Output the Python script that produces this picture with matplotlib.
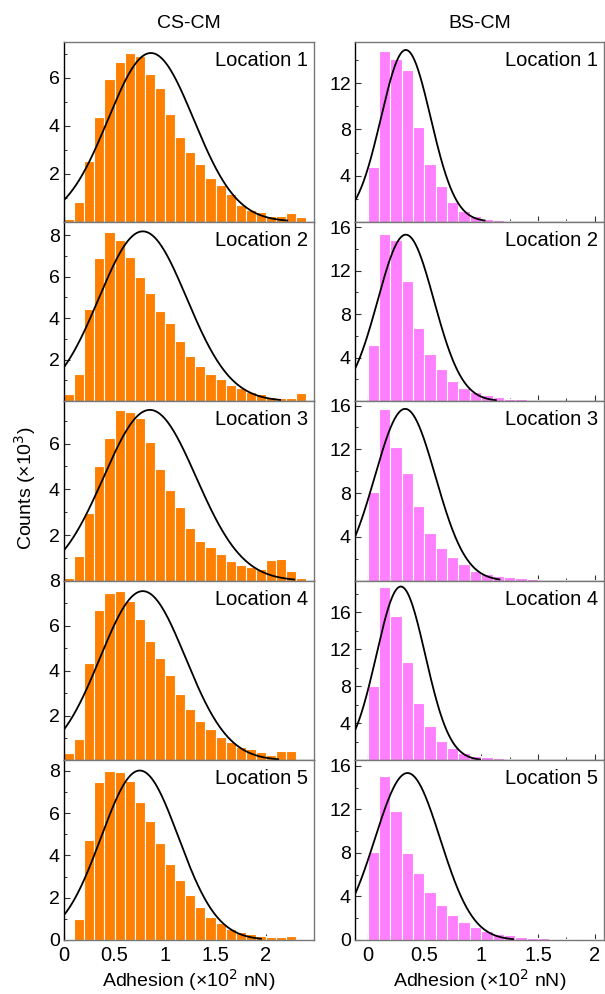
"""Adhesion histograms with Gaussian fits, CS-CM vs BS-CM at five locations."""

import matplotlib.pyplot as plt
import numpy as np

plt.rcParams["font.family"] = ["Liberation Sans", "DejaVu Sans"]

# bin layout
cs_edges = np.arange(0, 2.4, 0.1)   # 24 bins, 0 .. 2.4
bs_edges = np.arange(0, 2.0, 0.1)   # 20 bins, 0 .. 2.0
bin_w = 0.1

# counts (x10^3) per bin, CS-CM
cs_counts = [
    [0.11, 0.83, 2.53, 4.36, 5.94, 6.65, 7.03, 6.92, 6.15, 5.57, 4.49, 3.53,
     2.90, 2.40, 1.82, 1.53, 1.17, 0.69, 0.49, 0.40, 0.24, 0.24, 0.36, 0.19],
    [0.35, 1.29, 4.46, 6.90, 8.15, 7.76, 6.96, 5.99, 5.19, 4.33, 3.79, 2.88,
     2.16, 1.69, 1.29, 1.05, 0.78, 0.62, 0.43, 0.35, 0.19, 0.14, 0.14, 0.38],
    [0.12, 1.08, 2.96, 5.02, 6.25, 7.47, 7.37, 7.11, 6.06, 4.88, 3.96, 3.21,
     2.29, 1.74, 1.46, 1.15, 0.86, 0.67, 0.60, 0.51, 0.91, 0.95, 0.41, 0.12],
    [0.32, 0.97, 4.34, 6.71, 7.47, 7.54, 7.12, 6.31, 5.34, 4.54, 3.79, 2.96,
     2.29, 1.76, 1.41, 1.06, 0.84, 0.60, 0.49, 0.37, 0.26, 0.44, 0.40, 0.00],
    [0.06, 0.99, 4.72, 7.46, 7.98, 7.95, 7.53, 6.52, 5.61, 4.58, 3.59, 2.83,
     2.13, 1.56, 1.09, 0.79, 0.54, 0.38, 0.28, 0.19, 0.14, 0.14, 0.19, 0.06],
]

# counts (x10^3) per bin, BS-CM
bs_counts = [
    [4.71, 14.83, 14.10, 13.17, 8.20, 4.97, 3.05, 1.74, 0.96, 0.49, 0.26, 0.17,
     0.09, 0.05, 0.04, 0.03, 0.03, 0.02, 0.02, 0.00],
    [5.18, 15.34, 14.79, 11.04, 6.74, 4.36, 2.99, 1.89, 1.25, 0.88, 0.61, 0.43,
     0.24, 0.24, 0.08, 0.06, 0.04, 0.03, 0.02, 0.00],
    [8.09, 15.73, 12.18, 9.82, 6.82, 4.36, 3.00, 2.18, 1.55, 0.94, 0.64, 0.42,
     0.36, 0.27, 0.20, 0.10, 0.08, 0.06, 0.05, 0.04],
    [8.02, 18.74, 15.58, 10.58, 6.19, 3.71, 2.09, 1.29, 0.76, 0.47, 0.32, 0.22,
     0.12, 0.08, 0.05, 0.04, 0.03, 0.02, 0.00, 0.00],
    [8.13, 15.09, 11.81, 8.01, 6.20, 4.45, 3.22, 2.30, 1.69, 1.23, 0.83, 0.52,
     0.43, 0.28, 0.21, 0.15, 0.09, 0.09, 0.06, 0.06],
]

# Gaussian fit parameters: amplitude, centre, sigma, and where the drawn fit ends
cs_fit_amp = [7.04, 8.18, 7.47, 7.54, 8.02]
cs_fit_mu = [0.86, 0.78, 0.85, 0.78, 0.75]
cs_fit_sigma = [0.424, 0.435, 0.458, 0.423, 0.383]
cs_fit_end = [2.21, 2.14, 2.28, 2.12, 1.95]

bs_fit_amp = [14.91, 15.30, 15.70, 18.78, 15.34]
bs_fit_mu = [0.337, 0.337, 0.331, 0.293, 0.352]
bs_fit_sigma = [0.218, 0.247, 0.267, 0.215, 0.287]
bs_fit_end = [1.03, 1.13, 1.16, 0.99, 1.28]

cs_ylim = [7.5, 8.65, 7.85, 8.0, 8.5]
bs_ylim = [15.6, 16.5, 16.4, 19.4, 16.5]
cs_yticks = [[2, 4, 6], [2, 4, 6, 8], [2, 4, 6], [2, 4, 6, 8], [0, 2, 4, 6, 8]]
bs_yticks = [[4, 8, 12], [4, 8, 12, 16], [4, 8, 12, 16], [4, 8, 12, 16],
             [0, 4, 8, 12, 16]]
x_ticks = [0, 0.5, 1, 1.5, 2]
x_ticklabels = ["0", "0.5", "1", "1.5", "2"]

locations = ["Location 1", "Location 2", "Location 3", "Location 4", "Location 5"]
col_titles = ["CS-CM", "BS-CM"]

orange = "#ff8000"
pink = "#ff80ff"
frame = "#777777"

W, H = 605, 994
fig = plt.figure(figsize=(W / 100, H / 100), dpi=100)

top_px, row_px = 42, 179.6
col_px = [(64, 250), (355, 249)]


def gauss(x, a, mu, s):
    return a * np.exp(-((x - mu) ** 2) / (2 * s ** 2))


for col in range(2):
    x0, w = col_px[col]
    for row in range(5):
        bottom = 1 - (top_px + row_px * (row + 1)) / H
        ax = fig.add_axes([x0 / W, bottom, w / W, row_px / H])

        if col == 0:
            edges, counts, color = cs_edges, cs_counts[row], orange
            amp, mu, sig, xend = cs_fit_amp[row], cs_fit_mu[row], cs_fit_sigma[row], cs_fit_end[row]
            xlim = (0, 2.475)
            ylim = cs_ylim[row]
            yticks = cs_yticks[row]
            ymin_tick = 1
        else:
            edges, counts, color = bs_edges, bs_counts[row], pink
            amp, mu, sig, xend = bs_fit_amp[row], bs_fit_mu[row], bs_fit_sigma[row], bs_fit_end[row]
            xlim = (-0.11, 2.08)
            ylim = bs_ylim[row]
            yticks = bs_yticks[row]
            ymin_tick = 2

        ax.bar(edges, counts, width=bin_w, align="edge", color=color,
               edgecolor="white", linewidth=0.8, zorder=2)

        xs = np.linspace(xlim[0], xend, 300)
        ax.plot(xs, gauss(xs, amp, mu, sig), color="black", lw=1.3, zorder=3)

        ax.set_xlim(*xlim)
        ax.set_ylim(0, ylim)
        ax.set_yticks(yticks)
        ax.set_yticks(np.arange(ymin_tick, ylim, 2 * ymin_tick), minor=True)
        ax.set_xticks(x_ticks)
        ax.set_xticklabels(x_ticklabels)
        ax.set_xticks(np.arange(0.25, xlim[1], 0.5), minor=True)
        ax.tick_params(which="both", direction="in", color="#333333")
        ax.tick_params(axis="y", labelsize=14, pad=3)
        ax.tick_params(axis="x", labelsize=14.5, pad=4)
        ax.tick_params(which="major", length=4, width=0.8)
        ax.tick_params(which="minor", length=2.5, width=0.7)
        if row < 4:
            ax.tick_params(axis="x", which="both", labelbottom=False)

        for side in ["top", "right", "bottom"]:
            ax.spines[side].set_color(frame)
        ax.spines["left"].set_color("black")
        for sp in ax.spines.values():
            sp.set_linewidth(1.0)

        ax.text(0.975, 0.95, locations[row], transform=ax.transAxes,
                ha="right", va="top", fontsize=14.5)

        if row == 0:
            ax.set_title(col_titles[col], fontsize=14, pad=10)
        if row == 4:
            ax.set_xlabel("Adhesion (×10$^{2}$ nN)", fontsize=14, labelpad=2)

fig.text(25 / W, 1 - 488 / H, "Counts (×10$^{3}$)", rotation=90,
         ha="center", va="center", fontsize=14)

fig.savefig("out.png", dpi=100)
plt.close(fig)
